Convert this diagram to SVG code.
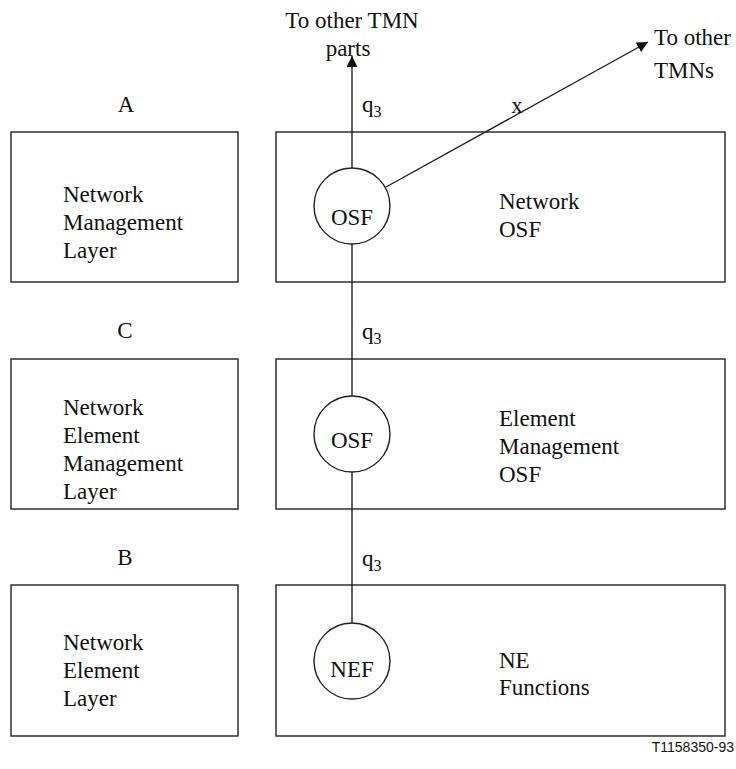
<svg xmlns="http://www.w3.org/2000/svg" width="736" height="769" viewBox="0 0 736 769">
<style>
text{font-family:"Liberation Serif","Times New Roman",serif;font-size:23px;fill:#111}
.box{fill:none;stroke:#222;stroke-width:1.4}
.node{fill:#fff;stroke:#222;stroke-width:1.4}
.conn{stroke:#222;stroke-width:1.4;fill:none}
.sub{font-size:16px}
.id{font-family:"Liberation Sans",Arial,sans-serif;font-size:14px}
</style>
<defs>
<marker id="ah" viewBox="0 0 10 10" refX="10" refY="5" markerWidth="11" markerHeight="11" markerUnits="userSpaceOnUse" orient="auto">
<path d="M0,0 L10,5 L0,10 Z" fill="#111"/>
</marker>
</defs>
<g id="connectors">
<line class="conn" x1="352" y1="168" x2="352" y2="56" marker-end="url(#ah)"/>
<line class="conn" x1="386" y1="187" x2="648" y2="42" marker-end="url(#ah)"/>
<line class="conn" x1="352" y1="244" x2="352" y2="396"/>
<line class="conn" x1="352" y1="472" x2="352" y2="623"/>
</g>
<g id="layerA">
<text x="126" y="112" text-anchor="middle">A</text>
<rect class="box" x="11" y="132" width="227" height="150"/>
<text x="63" y="202">Network</text>
<text x="63" y="230">Management</text>
<text x="63" y="258">Layer</text>
</g>
<g id="networkOSF">
<rect class="box" x="276" y="132" width="449" height="150"/>
<text x="499" y="209">Network</text>
<text x="499" y="237">OSF</text>
</g>
<g id="osf1">
<circle class="node" cx="352" cy="206" r="38"/>
<text x="352" y="225" text-anchor="middle">OSF</text>
</g>
<g id="layerC">
<text x="125" y="338" text-anchor="middle">C</text>
<rect class="box" x="11" y="359" width="227" height="150"/>
<text x="63" y="415">Network</text>
<text x="63" y="443">Element</text>
<text x="63" y="471">Management</text>
<text x="63" y="499">Layer</text>
</g>
<g id="elementOSF">
<rect class="box" x="276" y="359" width="449" height="150"/>
<text x="499" y="426">Element</text>
<text x="499" y="454">Management</text>
<text x="499" y="482">OSF</text>
</g>
<g id="osf2">
<circle class="node" cx="352" cy="434" r="38"/>
<text x="352" y="448" text-anchor="middle">OSF</text>
</g>
<g id="layerB">
<text x="125" y="565" text-anchor="middle">B</text>
<rect class="box" x="11" y="585" width="227" height="151"/>
<text x="63" y="650">Network</text>
<text x="63" y="678">Element</text>
<text x="63" y="706">Layer</text>
</g>
<g id="neFunctions">
<rect class="box" x="276" y="585" width="449" height="151"/>
<text x="499" y="668">NE</text>
<text x="499" y="695">Functions</text>
</g>
<g id="nef">
<circle class="node" cx="352" cy="661" r="38"/>
<text x="352" y="677" text-anchor="middle">NEF</text>
</g>
<g id="labels">
<text x="352" y="28" text-anchor="middle">To other TMN</text>
<text x="348" y="56" text-anchor="middle">parts</text>
<text x="654" y="45">To other</text>
<text x="654" y="78">TMNs</text>
<text x="517" y="113" text-anchor="middle">x</text>
<text x="362" y="112">q<tspan class="sub" dy="5">3</tspan></text>
<text x="362" y="339">q<tspan class="sub" dy="5">3</tspan></text>
<text x="362" y="566">q<tspan class="sub" dy="5">3</tspan></text>
<text class="id" x="734" y="752" text-anchor="end">T1158350-93</text>
</g>
</svg>
